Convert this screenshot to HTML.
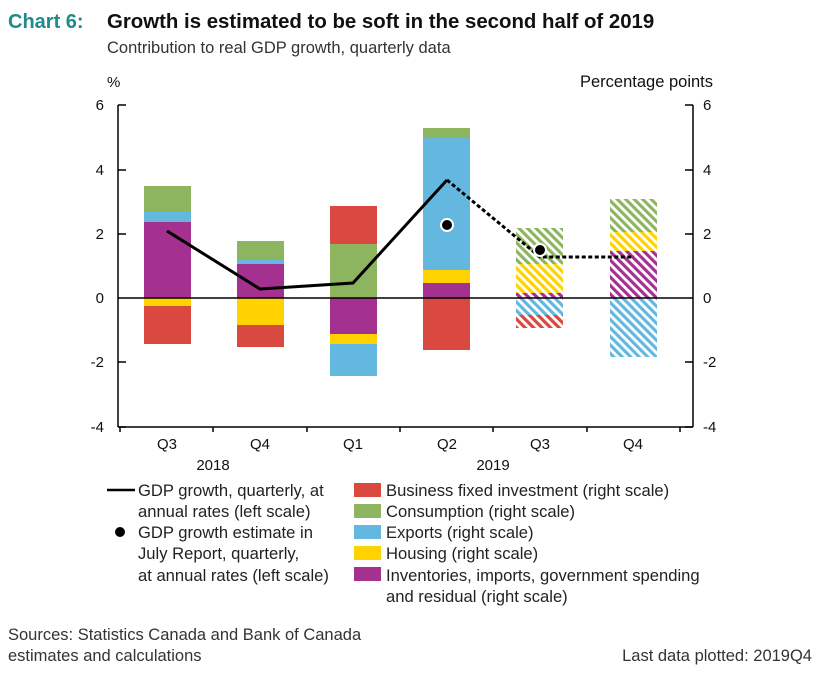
<!DOCTYPE html>
<html><head><meta charset="utf-8"><style>
body{margin:0;background:#fff;font-family:"Liberation Sans",sans-serif;}
</style></head><body>
<svg width="830" height="673" xmlns="http://www.w3.org/2000/svg" font-family="Liberation Sans, sans-serif">
<defs>
<pattern id="hg" width="6" height="6" patternUnits="userSpaceOnUse" patternTransform="rotate(-45)"><rect width="3.2" height="6" fill="#8db560"/></pattern>
<pattern id="hy" width="6" height="6" patternUnits="userSpaceOnUse" patternTransform="rotate(-45)"><rect width="3.2" height="6" fill="#ffd200"/></pattern>
<pattern id="hp" width="6" height="6" patternUnits="userSpaceOnUse" patternTransform="rotate(-45)"><rect width="3.2" height="6" fill="#a4308f"/></pattern>
<pattern id="hb" width="6" height="6" patternUnits="userSpaceOnUse" patternTransform="rotate(-45)"><rect width="3.2" height="6" fill="#64b8df"/></pattern>
<pattern id="hr" width="6" height="6" patternUnits="userSpaceOnUse" patternTransform="rotate(-45)"><rect width="3.2" height="6" fill="#d9493f"/></pattern>
</defs>
<text x="8" y="28" font-size="20" font-weight="bold" fill="#1f8a8a">Chart 6:</text>
<text x="107" y="28" font-size="20.4" font-weight="bold" fill="#111">Growth is estimated to be soft in the second half of 2019</text>
<text x="107" y="53" font-size="16.5" fill="#333">Contribution to real GDP growth, quarterly data</text>
<text x="107" y="87" font-size="15" fill="#111">%</text>
<text x="713" y="87" font-size="16.5" fill="#111" text-anchor="end">Percentage points</text>
<g fill="#d9493f"><rect x="144" y="306" width="47" height="38"/><rect x="237" y="325" width="47" height="22"/><rect x="330" y="206" width="47" height="38"/><rect x="423" y="298" width="47" height="52"/></g>
<g fill="#8db560"><rect x="144" y="186" width="47" height="26"/><rect x="237" y="241" width="47" height="19"/><rect x="330" y="244" width="47" height="54"/><rect x="423" y="128" width="47" height="10"/></g>
<g fill="#64b8df"><rect x="144" y="212" width="47" height="10"/><rect x="237" y="260" width="47" height="4"/><rect x="330" y="344" width="47" height="32"/><rect x="423" y="138" width="47" height="132"/></g>
<g fill="#a4308f"><rect x="144" y="222" width="47" height="76"/><rect x="237" y="264" width="47" height="34"/><rect x="330" y="298" width="47" height="36"/><rect x="423" y="283" width="47" height="15"/></g>
<g fill="#ffd200"><rect x="144" y="298" width="47" height="8"/><rect x="237" y="298" width="47" height="27"/><rect x="330" y="334" width="47" height="10"/><rect x="423" y="270" width="47" height="13"/></g>
<rect x="516" y="228" width="47" height="36" fill="url(#hg)"/><rect x="516" y="264" width="47" height="29" fill="url(#hy)"/><rect x="516" y="293" width="47" height="5" fill="url(#hp)"/><rect x="516" y="298" width="47" height="17" fill="url(#hb)"/><rect x="516" y="315" width="47" height="13" fill="url(#hr)"/>
<rect x="610" y="199" width="47" height="33" fill="url(#hg)"/><rect x="610" y="232" width="47" height="19" fill="url(#hy)"/><rect x="610" y="251" width="47" height="47" fill="url(#hp)"/><rect x="610" y="298" width="47" height="59" fill="url(#hb)"/>
<g stroke="#000" stroke-width="1.5" fill="none">
<line x1="118" y1="105" x2="118" y2="427"/><line x1="693" y1="105" x2="693" y2="427"/>
<line x1="118" y1="298" x2="693" y2="298"/><line x1="118" y1="427" x2="693" y2="427"/>
<path d="M118 105h8M118 170h8M118 234h8M118 362h8M118 427h8M685 105h8M685 170h8M685 234h8M685 362h8M685 427h8"/>
<path d="M120 427v5M213 427v5M307 427v5M400 427v5M493 427v5M587 427v5M680 427v5"/>
</g>
<g font-size="15" fill="#111">
<text x="104" y="110" text-anchor="end">6</text><text x="104" y="175" text-anchor="end">4</text><text x="104" y="239" text-anchor="end">2</text><text x="104" y="303" text-anchor="end">0</text><text x="104" y="367" text-anchor="end">-2</text><text x="104" y="432" text-anchor="end">-4</text>
<text x="703" y="110">6</text><text x="703" y="175">4</text><text x="703" y="239">2</text><text x="703" y="303">0</text><text x="703" y="367">-2</text><text x="703" y="432">-4</text>
<g text-anchor="middle"><text x="167" y="449">Q3</text><text x="260" y="449">Q4</text><text x="353" y="449">Q1</text><text x="447" y="449">Q2</text><text x="540" y="449">Q3</text><text x="633" y="449">Q4</text>
<text x="213" y="470">2018</text><text x="493" y="470">2019</text></g>
</g>
<polyline points="167,231 260,289 353,283 447,180" stroke="#000" stroke-width="3" fill="none"/>
<polyline points="447,180 540,257 634,257" stroke="#000" stroke-width="3" stroke-dasharray="4,2.5" fill="none"/>
<circle cx="447" cy="225" r="6" fill="#000" stroke="#fff" stroke-width="2"/>
<circle cx="540" cy="250" r="6" fill="#000" stroke="#fff" stroke-width="2"/>
<g font-size="16.6" fill="#222">
<line x1="107" y1="490" x2="135" y2="490" stroke="#000" stroke-width="2.5"/>
<text x="138" y="496">GDP growth, quarterly, at</text><text x="138" y="517">annual rates (left scale)</text>
<circle cx="120" cy="532" r="5" fill="#000"/>
<text x="138" y="538">GDP growth estimate in</text><text x="138" y="559">July Report, quarterly,</text><text x="138" y="581">at annual rates (left scale)</text>
<rect x="354" y="483" width="27" height="14" fill="#d9493f"/><text x="386" y="496">Business fixed investment (right scale)</text>
<rect x="354" y="504" width="27" height="14" fill="#8db560"/><text x="386" y="517">Consumption (right scale)</text>
<rect x="354" y="525" width="27" height="14" fill="#64b8df"/><text x="386" y="538">Exports (right scale)</text>
<rect x="354" y="546" width="27" height="14" fill="#ffd200"/><text x="386" y="559">Housing (right scale)</text>
<rect x="354" y="567" width="27" height="14" fill="#a4308f"/><text x="386" y="581">Inventories, imports, government spending</text><text x="386" y="602">and residual (right scale)</text>
</g>
<g font-size="16.5" fill="#333">
<text x="8" y="640">Sources: Statistics Canada and Bank of Canada</text><text x="8" y="661">estimates and calculations</text>
<text x="812" y="661" text-anchor="end">Last data plotted: 2019Q4</text>
</g>
</svg>
</body></html>
